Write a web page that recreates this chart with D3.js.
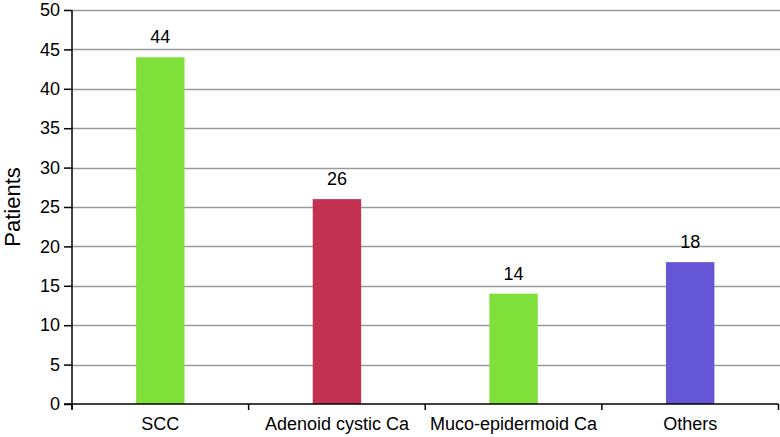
<!DOCTYPE html>
<html><head><meta charset="utf-8">
<script src="https://cdn.jsdelivr.net/npm/d3@7"></script>
<style>body{margin:0;background:#fff}svg{display:block}text{font-family:"Liberation Sans",Arial,Helvetica,sans-serif}</style>
</head><body><svg id="c" width="780" height="437"></svg>
<script>
const categories = ["SCC","Adenoid cystic Ca","Muco-epidermoid Ca","Others"];
const values = [44,26,14,18];
const colors = ["#80e03a","#c23152","#80e03a","#6556d6"];
const yTicks = [0,5,10,15,20,25,30,35,40,45,50];
const yLabel = "Patients";

const svg = d3.select("#c");
const m = {l:72, r:1.5, t:10, b:33};
const W = 780, H = 437;
const x = d3.scaleBand().domain(categories).range([m.l, W - m.r]);
const y = d3.scaleLinear().domain([0,50]).range([H - m.b, m.t]);
const barW = x.step() * 0.274;

// gridlines
svg.append("g").selectAll("line").data(yTicks.filter(d=>d>0)).join("line")
  .attr("x1", m.l).attr("x2", W).attr("y1", d=>Math.round(y(d))+0.5).attr("y2", d=>Math.round(y(d))+0.5)
  .attr("stroke","#9a9a9a").attr("stroke-width",1.5);

// bars
svg.append("g").selectAll("rect").data(values).join("rect")
  .attr("x",(d,i)=>x(categories[i]) + x.bandwidth()/2 - barW/2)
  .attr("width", barW)
  .attr("y", d=>y(d)).attr("height", d=>y(0)-y(d))
  .attr("fill",(d,i)=>colors[i]);

// value labels
svg.append("g").selectAll("text").data(values).join("text")
  .attr("x",(d,i)=>x(categories[i]) + x.bandwidth()/2)
  .attr("y", d=>y(d) - 14)
  .attr("text-anchor","middle").attr("font-size",18).attr("fill","#000")
  .text(d=>d);

// y axis
const ya = d3.axisLeft(y).tickValues(yTicks).tickSize(8).tickPadding(4);
const gy = svg.append("g").attr("transform",`translate(${m.l},0)`).call(ya);
gy.attr("font-family",null);
gy.select(".domain").attr("stroke","#000").attr("stroke-width",1.5).attr("d",`M0,${m.t}V${y(0)+5}`);
gy.selectAll(".tick line").attr("stroke","#000").attr("stroke-width",1.5);
gy.selectAll(".tick text").attr("font-size",18).attr("fill","#000");

// x axis
const gx = svg.append("g").attr("transform",`translate(0,${y(0)})`);
gx.append("line").attr("x1",m.l-8).attr("x2",W - m.r).attr("y1",0).attr("y2",0).attr("stroke","#000").attr("stroke-width",1.5);
const bounds = categories.map(c=>x(c)).concat([x(categories[categories.length-1]) + x.step()]);
gx.selectAll("line.t").data(bounds).join("line").attr("class","t")
  .attr("x1",d=>d).attr("x2",d=>d).attr("y1",0).attr("y2",6)
  .attr("stroke","#000").attr("stroke-width",1.5);
gx.selectAll("text").data(categories).join("text")
  .attr("x",d=>x(d)+x.bandwidth()/2).attr("y",26)
  .attr("text-anchor","middle").attr("font-size",18).attr("fill","#000")
  .text(d=>d);

// y label
svg.append("text").attr("transform",`translate(20,${(m.t+y(0))/2}) rotate(-90)`)
  .attr("text-anchor","middle").attr("font-size",22).attr("fill","#000").text(yLabel);
</script></body></html>
